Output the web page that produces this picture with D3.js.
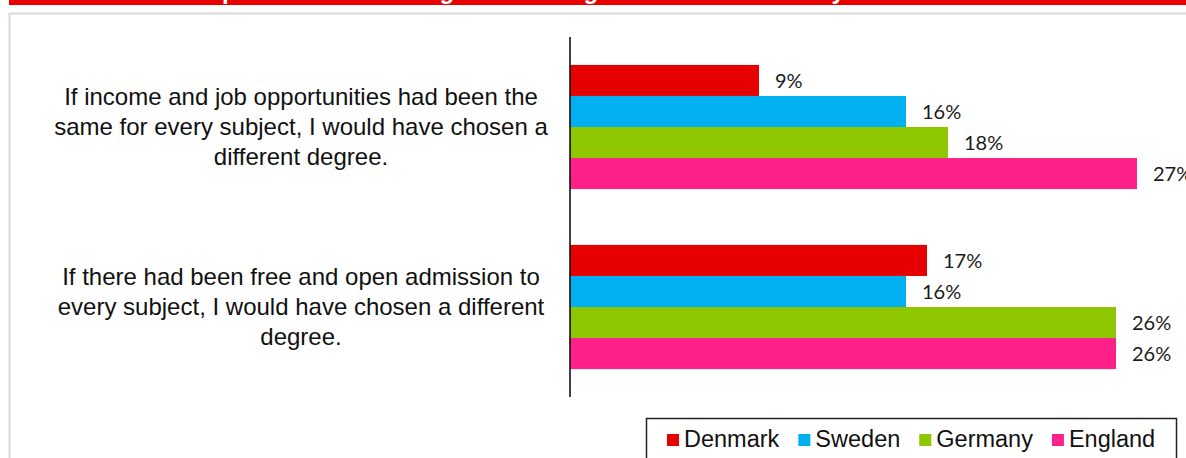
<!DOCTYPE html>
<html>
<head>
<meta charset="utf-8">
<script src="https://cdn.jsdelivr.net/npm/d3@7"></script>
<style>
  body { margin: 0; background: #fff; }
  svg { display: block; }
</style>
</head>
<body>
<div id="chart"></div>
<script>
// data
var categories = ["income", "admission"];
var categoryLines = [
    ["If income and job opportunities had been the", "same for every subject, I would have chosen a", "different degree."],
    ["If there had been free and open admission to", "every subject, I would have chosen a different", "degree."]
];
var countries = ["Denmark", "Sweden", "Germany", "England"];
var denmarkValues = [9, 17];
var swedenValues = [16, 16];
var germanyValues = [18, 26];
var englandValues = [27, 26];
var colors = ["#e60000", "#00b0f0", "#8ec600", "#ff2189"];

var width = 1186, height = 458;

var svg = d3.select("#chart").append("svg")
    .attr("width", width)
    .attr("height", height);

// red banner, the title sits above the visible area and only its tails show
svg.append("clipPath").attr("id", "banner-clip")
  .append("rect").attr("x", 9).attr("y", 0).attr("width", width - 9).attr("height", 5);
svg.append("rect")
    .attr("x", 9).attr("y", 0)
    .attr("width", width - 9).attr("height", 5)
    .attr("fill", "#e60000");
svg.append("text")
    .attr("clip-path", "url(#banner-clip)")
    .attr("x", 170).attr("y", -1.5)
    .attr("font-family", "Liberation Sans, Arial, sans-serif")
    .attr("font-weight", "bold")
    .attr("font-size", 24)
    .attr("fill", "#fff")
    .text("Perspective on choosing another degree under other study conditions");

// light grey frame
svg.append("path")
    .attr("d", "M9.5," + height + "V13.5H" + width)
    .attr("fill", "none")
    .attr("stroke", "#d9d9d9")
    .attr("stroke-width", 2);

// scales
var x = d3.scaleLinear().domain([0, 30]).range([570, 1200]);
var y0 = d3.scaleBand().domain(categories).range([37, 397]);
var y1 = d3.scaleBand().domain(countries).range([0, y0.bandwidth()])
    .paddingInner(0).paddingOuter(0.9);

var series = countries.map(function(c, i) {
    var vals = [denmarkValues, swedenValues, germanyValues, englandValues][i];
    return { name: c, color: colors[i], values: vals };
});

var groups = svg.selectAll(".cat")
    .data(categories)
    .enter().append("g")
    .attr("class", "cat")
    .attr("transform", function(d) { return "translate(0," + y0(d) + ")"; });

groups.each(function(cat, ci) {
    var g = d3.select(this);
    series.forEach(function(s) {
        var v = s.values[ci];
        g.append("rect")
            .attr("x", x(0))
            .attr("y", y1(s.name))
            .attr("width", x(v) - x(0))
            .attr("height", y1.bandwidth())
            .attr("fill", s.color);
        g.append("text")
            .attr("x", x(v) + 16)
            .attr("y", y1(s.name) + y1.bandwidth() / 2 + 2)
            .attr("dominant-baseline", "middle")
            .attr("font-family", "Lato, sans-serif")
            .attr("font-size", 20)
            .attr("fill", "#1a1a1a")
            .text(v + "%");
    });

    // category label
    var lines = categoryLines[ci];
    var mid = y0.bandwidth() / 2 + 2;
    g.selectAll(".lbl")
        .data(lines)
        .enter().append("text")
        .attr("x", 301)
        .attr("y", function(d, i) { return mid + (i - (lines.length - 1) / 2) * 30; })
        .attr("text-anchor", "middle")
        .attr("dominant-baseline", "middle")
        .attr("font-family", "Liberation Sans, Arial, sans-serif")
        .attr("font-size", 24)
        .attr("fill", "#111")
        .text(function(d) { return d; });
});

// vertical axis line
svg.append("line")
    .attr("x1", x(0)).attr("x2", x(0))
    .attr("y1", 37).attr("y2", 397)
    .attr("stroke", "#000")
    .attr("stroke-width", 1.5);

// legend
var legend = svg.append("g");
legend.append("rect")
    .attr("x", 646.5).attr("y", 418.5)
    .attr("width", 530).attr("height", 60)
    .attr("fill", "#fff")
    .attr("stroke", "#222")
    .attr("stroke-width", 1.5);

var lx = 667;
series.forEach(function(s) {
    legend.append("rect")
        .attr("x", lx).attr("y", 434)
        .attr("width", 12).attr("height", 12)
        .attr("fill", s.color);
    var t = legend.append("text")
        .attr("x", lx + 17).attr("y", 441)
        .attr("dominant-baseline", "middle")
        .attr("font-family", "Liberation Sans, Arial, sans-serif")
        .attr("font-size", 23.5)
        .attr("fill", "#111")
        .text(s.name);
    lx = lx + 17 + t.node().getComputedTextLength() + 19;
});
</script>
</body>
</html>
